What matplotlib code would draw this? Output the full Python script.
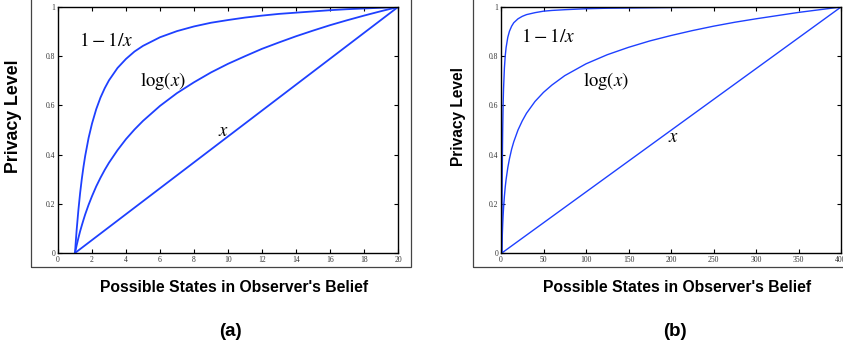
import matplotlib
matplotlib.use("Agg")
import matplotlib.pyplot as plt
from matplotlib.patches import Rectangle

plt.rcParams['mathtext.fontset'] = 'stix'

# ---- panel (a) data ----
xa = [1, 1.05, 1.1, 1.2, 1.3, 1.4, 1.5, 1.6, 1.8, 2, 2.25, 2.5, 2.75, 3, 3.5, 4, 4.5,
      5, 6, 7, 8, 9, 10, 11, 12, 13, 14, 15, 16, 17, 18, 19, 20]
inv_a = [0, 0.050, 0.096, 0.175, 0.243, 0.301, 0.351, 0.395, 0.468, 0.526, 0.585,
         0.632, 0.670, 0.702, 0.752, 0.789, 0.819, 0.842, 0.877, 0.902, 0.921, 0.936,
         0.947, 0.957, 0.965, 0.972, 0.977, 0.982, 0.987, 0.991, 0.994, 0.997, 1.0]
log_a = [0, 0.016, 0.032, 0.061, 0.088, 0.112, 0.135, 0.157, 0.196, 0.231, 0.271,
         0.306, 0.338, 0.367, 0.418, 0.463, 0.502, 0.537, 0.598, 0.650, 0.694, 0.734,
         0.769, 0.800, 0.830, 0.856, 0.881, 0.904, 0.926, 0.946, 0.965, 0.983, 1.0]
lin_ax = [1, 20]
lin_ay = [0, 1]

# ---- panel (b) data ----
xb_inv = [1, 1.1, 1.25, 1.5, 1.75, 2, 2.5, 3, 4, 5, 6, 8, 10, 12.5, 15, 20, 25, 30,
          40, 50, 60, 75, 100, 125, 150, 200, 250, 295]
inv_b = [0, 0.091, 0.201, 0.334, 0.430, 0.501, 0.602, 0.668, 0.752, 0.802, 0.835,
         0.877, 0.902, 0.922, 0.936, 0.952, 0.962, 0.969, 0.977, 0.983, 0.986, 0.989,
         0.993, 0.995, 0.996, 0.998, 0.999, 0.999]
xb_log = [1, 1.1, 1.25, 1.5, 1.75, 2, 2.5, 3, 4, 5, 6, 8, 10, 12.5, 15, 20, 25, 30,
          40, 50, 60, 75, 100, 125, 150, 175, 200, 225, 250, 275, 300, 325, 350, 375, 400]
log_b = [0, 0.016, 0.037, 0.068, 0.093, 0.116, 0.153, 0.183, 0.231, 0.269, 0.299,
         0.347, 0.384, 0.422, 0.452, 0.500, 0.537, 0.568, 0.616, 0.653, 0.683, 0.721,
         0.769, 0.806, 0.836, 0.862, 0.884, 0.904, 0.922, 0.938, 0.952, 0.965, 0.978,
         0.989, 1.0]
lin_bx = [1, 400]
lin_by = [0, 1]

yticks = [0, 0.2, 0.4, 0.6, 0.8, 1.0]
ytick_labels = ['0', '0.2', '0.4', '0.6', '0.8', '1']
xticks_a = list(range(0, 21, 2))
xticks_b = list(range(0, 401, 50))

W, H = 843, 349
fig = plt.figure(figsize=(W / 100, H / 100), dpi=100)

def ax_rect(l, r, t, b):
    return [l / W, 1 - b / H, (r - l) / W, (b - t) / H]

blue = '#1e40ff'

def style(ax, xticks, xlim):
    ax.set_xlim(*xlim)
    ax.set_ylim(0, 1)
    ax.set_xticks(xticks)
    ax.set_xticklabels([str(v) for v in xticks])
    ax.set_yticks(yticks)
    ax.set_yticklabels(ytick_labels)
    ax.tick_params(direction='in', length=3, width=0.8, top=True, right=True,
                   labelsize=5.5, pad=2, labelcolor='#333333')
    for lab in ax.get_xticklabels() + ax.get_yticklabels():
        lab.set_fontfamily('Liberation Serif')
    for s in ax.spines.values():
        s.set_linewidth(1.0)

# outer boxes
fig.patches.append(Rectangle((31 / W, 1 - 267 / H), (411 - 31) / W, 267 / H + 0.1,
                             transform=fig.transFigure, fill=False, ec='#444444', lw=0.9))
fig.patches.append(Rectangle((473 / W, 1 - 267 / H), 0.5, 267 / H + 0.1,
                             transform=fig.transFigure, fill=False, ec='#444444', lw=0.9))

# panel (a)
axa = fig.add_axes(ax_rect(58, 398, 7, 253))
for xs, ys in ((xa, inv_a), (xa, log_a), (lin_ax, lin_ay)):
    axa.plot(xs, ys, color=blue, lw=1.3, solid_joinstyle='round')
style(axa, xticks_a, (0, 20))
axa.text(1.25, 0.865, r'$1-1/x$', fontsize=14, ha='left', va='center')
axa.text(4.8, 0.70, r'$\log(x)$', fontsize=13.5, ha='left', va='center')
axa.text(9.75, 0.50, r'$x$', fontsize=13.5, ha='center', va='center')

# panel (b)
axb = fig.add_axes(ax_rect(501, 841, 7, 253))
for xs, ys in ((xb_inv, inv_b), (xb_log, log_b), (lin_bx, lin_by)):
    axb.plot(xs, ys, color=blue, lw=1.0, solid_joinstyle='round')
style(axb, xticks_b, (0, 400))
axb.text(24, 0.88, r'$1-1/x$', fontsize=14, ha='left', va='center')
axb.text(97, 0.70, r'$\log(x)$', fontsize=13.5, ha='left', va='center')
axb.text(203, 0.475, r'$x$', fontsize=13.5, ha='center', va='center')

lab_font = dict(family='Liberation Sans', weight='bold')
fig.text(14 / W, 1 - 116 / H, 'Privacy Level', rotation=90, ha='center', va='center',
         fontsize=12.8, **lab_font)
fig.text(459 / W, 1 - 116 / H, 'Privacy Level', rotation=90, ha='center', va='center',
         fontsize=11.2, **lab_font)
fig.text(234 / W, 1 - 288 / H, "Possible States in Observer's Belief", ha='center',
         va='center', fontsize=11.3, **lab_font)
fig.text(677 / W, 1 - 288 / H, "Possible States in Observer's Belief", ha='center',
         va='center', fontsize=11.3, **lab_font)
fig.text(230 / W, 1 - 331 / H, '(a)', ha='center', va='center', fontsize=13.5, **lab_font)
fig.text(675 / W, 1 - 331 / H, '(b)', ha='center', va='center', fontsize=13.5, **lab_font)

fig.savefig('out.png', dpi=100)
